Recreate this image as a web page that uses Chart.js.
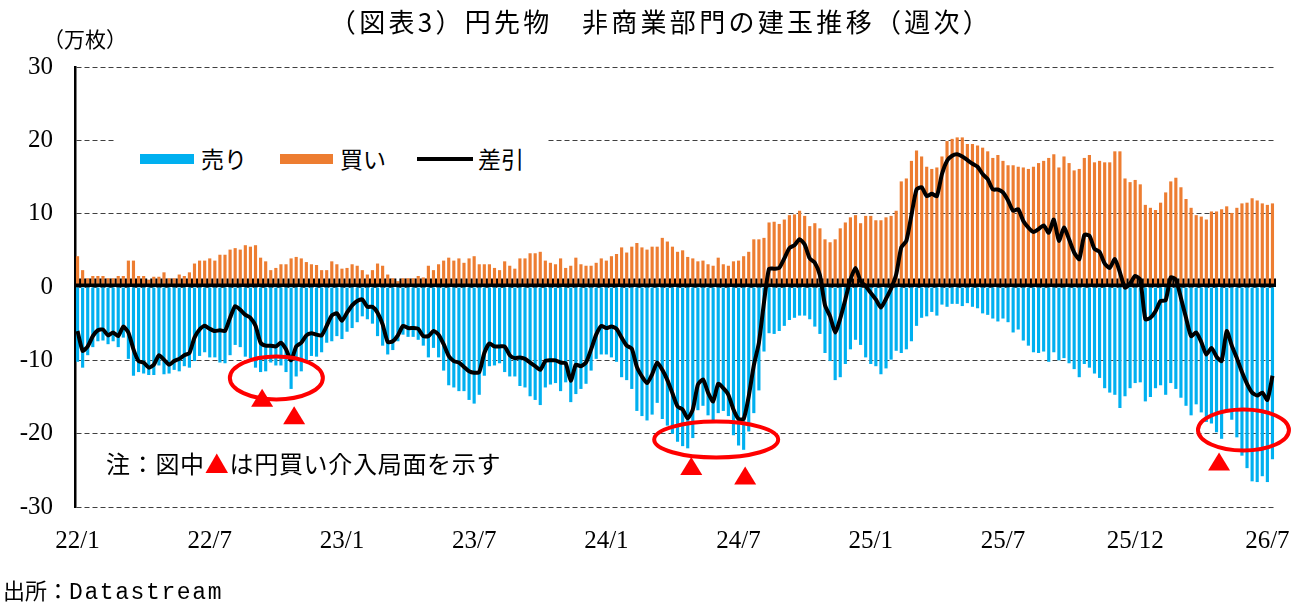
<!DOCTYPE html>
<html lang="ja">
<head>
<meta charset="utf-8">
<title>円先物 非商業部門の建玉推移（週次）</title>
<script src="https://cdn.jsdelivr.net/npm/chart.js@4.4.1/dist/chart.umd.min.js"></script>
<style>
  html, body { margin: 0; padding: 0; background: #fff; }
  #wrap { position: relative; width: 1299px; height: 604px; overflow: hidden;
          font-family: "Noto Sans CJK JP", sans-serif; color: #000; }
  #chart { position: absolute; left: 0; top: 0; }
  .txt { position: absolute; white-space: nowrap; line-height: 1; }
  .sw { position: absolute; }
</style>
</head>
<body>
<div id="wrap">
  <canvas id="chart" width="1299" height="604"></canvas>

  <div class="txt" id="title" style="left:661px; top:8px; font-size:26px; letter-spacing:3.3px; transform:translateX(-50%);">（図表3）円先物　非商業部門の建玉推移（週次）</div>
  <div class="txt" style="left:43px; top:28px; font-size:21px;">（万枚）</div>

  <!-- 凡例 -->
  <div class="sw" style="left:114px; top:133px; width:434px; height:46px; background:#fff;"></div>
  <div class="sw" style="left:140px; top:154px; width:54px; height:10px; background:#00B0F0;"></div>
  <div class="txt" style="left:201px; top:147px; font-size:23px;">売り</div>
  <div class="sw" style="left:280px; top:154px; width:53px; height:10px; background:#ED7D31;"></div>
  <div class="txt" style="left:340px; top:147px; font-size:23px;">買い</div>
  <div class="sw" style="left:417px; top:157px; width:56px; height:4px; background:#000;"></div>
  <div class="txt" style="left:478px; top:147px; font-size:23px;">差引</div>

  <div class="txt" style="left:106px; top:451px; font-size:24px; letter-spacing:0.7px;">注：図中<span style="color:#ff0000;">▲</span>は円買い介入局面を示す</div>
  <div class="txt" style="left:3px; top:578px; font-size:22px;">出所：<span style="font-family:'Liberation Mono', monospace; font-size:23px; letter-spacing:1.6px;">Datastream</span></div>
</div>

<script>
// 目盛りラベル（26週ごと）
const tickLabels = ["22/1", "22/7", "23/1", "23/7", "24/1", "24/7", "25/1", "25/7", "25/12", "26/7"];
const weeksPerTick = 26;

// 売り（万枚）
const sell = [
  -10.2, -11.0, -9.3, -8.2, -7.4, -7.3, -7.8, -7.4, -8.2, -6.9,
  -9.8, -12.1, -11.6, -11.8, -12.0, -12.0, -10.7, -11.9, -11.8, -11.3,
  -11.5, -10.8, -11.0, -10.1, -9.4, -8.9, -9.6, -9.6, -10.3, -10.4,
  -9.3, -7.9, -8.2, -9.5,
  -9.7, -11.0, -11.6, -11.5, -10.3, -10.7, -10.7, -11.6, -13.9, -12.2,
  -11.5, -10.0, -9.4, -9.5, -8.9, -7.6, -7.4, -6.7, -7.1, -6.1,
  -5.6, -4.8, -4.0, -4.4, -5.0, -6.7, -8.0, -9.2, -8.6, -7.4,
  -6.5, -6.8, -6.8, -7.2, -8.0,
  -9.6, -8.3, -9.6, -11.4, -13.4, -13.7, -14.2, -14.2, -15.4, -15.9,
  -14.7, -12.1, -10.8, -10.7, -10.4, -11.6, -12.2, -12.2, -13.5, -13.7,
  -14.9, -15.4, -16.1, -13.7, -13.3, -13.1, -14.2, -13.0, -15.7, -14.6,
  -13.9, -13.2, -11.4, -9.8,
  -9.2, -9.2, -9.6, -10.2, -12.3, -12.7, -13.9, -16.9, -17.6, -18.2,
  -17.4, -15.8, -18.0, -18.9, -20.0, -21.1, -21.7, -22.0, -20.6, -16.8,
  -16.2, -17.5, -18.5, -17.2, -16.9, -17.6, -20.2, -21.6, -22.2, -19.7,
  -17.2, -14.1, -8.8, -6.3, -6.4,
  -6.0, -5.3, -4.5, -4.2, -3.9, -3.9, -4.4, -5.4, -6.4, -9.0,
  -10.1, -12.7, -12.3, -10.5, -8.5, -7.2, -7.9, -9.6, -10.5, -10.8,
  -11.9, -11.1, -9.9, -8.7, -9.0, -8.5, -7.4, -5.3, -4.2, -4.0,
  -3.4, -3.9, -2.4, -2.7,
  -2.3, -2.3, -2.6, -2.2, -2.7, -2.9, -3.6, -3.8, -4.3, -4.7,
  -4.3, -4.8, -6.2, -5.8, -7.3, -8.0, -8.9, -9.0, -8.8, -10.2,
  -8.9, -10.0, -9.7, -10.4, -11.2, -12.3, -10.5, -11.0, -11.8, -12.4,
  -13.8, -14.4, -14.7, -16.5, -14.9,
  -13.8, -13.1, -13.0, -15.6, -15.0, -13.8, -13.4, -14.7, -13.1, -13.9,
  -15.1, -16.2, -17.5, -16.0, -17.1, -18.4, -18.6, -19.8, -20.7, -17.0,
  -18.1, -20.5, -23.0, -24.7, -26.5, -26.6, -25.8, -26.6, -23.5
];

// 買い（万枚）
const buy = [
  4.2, 2.3, 1.2, 1.5, 1.5, 1.5, 1.2, 1.2, 1.5, 1.5,
  3.6, 3.6, 1.5, 1.5, 1.0, 1.4, 1.4, 2.0, 1.2, 1.2,
  1.7, 1.5, 2.0, 3.2, 3.6, 3.6, 3.9, 3.6, 4.4, 4.4,
  5.1, 5.3, 5.1, 5.7,
  5.5, 5.7, 4.0, 3.5, 2.3, 2.6, 3.1, 3.1, 3.9, 4.1,
  3.9, 3.4, 3.1, 3.0, 2.3, 2.3, 3.5, 3.1, 2.5, 2.6,
  3.1, 2.9, 2.3, 1.7, 2.3, 3.2, 2.9, 1.7, 1.2, 0.8,
  1.2, 1.2, 1.2, 1.5, 1.3,
  2.9, 2.3, 3.1, 3.6, 4.0, 3.6, 3.9, 3.3, 3.9, 4.2,
  3.1, 3.1, 3.1, 2.6, 2.3, 3.5, 2.9, 2.5, 3.9, 3.9,
  4.6, 4.6, 4.8, 3.6, 3.3, 3.1, 3.9, 2.6, 2.9, 4.0,
  3.1, 2.9, 2.9, 3.3,
  3.9, 3.6, 4.2, 4.5, 5.4, 4.7, 5.5, 6.0, 5.4, 5.1,
  5.5, 5.5, 6.7, 6.2, 5.5, 4.8, 5.0, 4.1, 3.9, 3.5,
  3.6, 3.1, 2.9, 4.0, 3.1, 2.9, 3.5, 3.6, 4.2, 4.8,
  6.5, 6.5, 6.7, 8.8, 8.9,
  8.6, 9.2, 9.8, 9.9, 10.4, 9.7, 8.3, 8.7, 8.0, 6.5,
  6.1, 6.5, 8.0, 8.8, 9.5, 9.8, 8.7, 9.7, 9.7, 9.1,
  9.1, 9.5, 9.7, 10.4, 14.4, 14.8, 17.2, 18.6, 17.8, 16.4,
  16.1, 16.3, 17.8, 19.9,
  20.2, 20.4, 20.4, 19.5, 19.5, 19.3, 19.0, 18.5, 17.6, 18.0,
  17.2, 16.6, 16.6, 16.4, 16.3, 16.1, 16.4, 16.9, 17.2, 17.6,
  18.1, 16.3, 17.8, 16.9, 15.9, 16.1, 17.6, 18.0, 17.0, 17.2,
  17.0, 17.0, 18.5, 18.5, 14.8,
  14.3, 14.6, 14.0, 11.2, 10.8, 10.5, 11.5, 12.9, 14.4, 14.9,
  13.6, 12.0, 10.8, 9.8, 9.6, 9.2, 10.3, 10.3, 10.6, 11.0,
  10.1, 10.8, 11.4, 11.5, 12.1, 11.8, 11.4, 11.2, 11.4
];

// 差引（万枚）
const net = [
  -6.0, -8.7, -8.1, -6.7, -5.9, -5.8, -6.6, -6.2, -6.7, -5.4,
  -6.2, -8.5, -10.1, -10.3, -11.0, -10.6, -9.3, -9.9, -10.6, -10.1,
  -9.8, -9.3, -9.0, -6.9, -5.8, -5.3, -5.7, -6.0, -5.9, -6.0,
  -4.2, -2.6, -3.1, -3.8,
  -4.2, -5.3, -7.6, -8.0, -8.0, -8.1, -7.6, -8.5, -10.0, -8.1,
  -7.6, -6.6, -6.3, -6.5, -6.6, -5.3, -3.9, -3.6, -4.6, -3.5,
  -2.5, -1.9, -1.7, -2.7, -2.7, -3.5, -5.1, -7.5, -7.4, -6.6,
  -5.3, -5.6, -5.6, -5.7, -6.7,
  -6.7, -6.0, -6.5, -7.8, -9.4, -10.1, -10.3, -10.9, -11.5, -11.7,
  -11.6, -9.0, -7.7, -8.1, -8.1, -8.1, -9.3, -9.7, -9.6, -9.8,
  -10.3, -10.8, -11.3, -10.1, -10.0, -10.0, -10.3, -10.4, -12.8, -10.6,
  -10.8, -10.3, -8.5, -6.5,
  -5.3, -5.6, -5.4, -5.7, -6.9, -8.0, -8.4, -10.9, -12.2, -13.1,
  -11.9, -10.3, -11.3, -12.7, -14.5, -16.3, -16.7, -17.9, -16.7, -13.3,
  -12.6, -14.4, -15.6, -13.2, -13.8, -14.7, -16.7, -18.0, -18.0, -14.9,
  -10.7, -7.6, -2.1, 2.5, 2.5,
  2.6, 3.9, 5.3, 5.7, 6.5, 5.8, 3.9, 3.3, 1.6, -2.5,
  -4.0, -6.2, -4.3, -1.7, 1.0, 2.6, 0.8, 0.1, -0.8, -1.7,
  -2.8, -1.6, -0.2, 1.7, 5.4, 6.3, 9.8, 13.3, 13.6, 12.4,
  12.7, 12.4, 15.4, 17.2,
  17.9, 18.1, 17.8, 17.3, 16.8, 16.4, 15.4, 14.7, 13.3, 13.3,
  12.9, 11.8, 10.4, 10.6, 9.0, 8.1, 7.5, 7.9, 8.4, 7.4,
  9.2, 6.3, 8.1, 6.5, 4.7, 3.8, 7.1, 7.0, 5.2, 4.8,
  3.2, 2.6, 3.8, 2.0, -0.1,
  0.5, 1.5, 1.0, -4.4, -4.2, -3.3, -1.9, -1.8, 1.3, 1.0,
  -1.5, -4.2, -6.7, -6.2, -7.5, -9.2, -8.3, -9.5, -10.1, -6.0,
  -8.0, -9.7, -11.6, -13.2, -14.4, -14.8, -14.4, -15.4, -12.1
];

// 円買い介入局面の印（週の位置と値）
const ellipseMarks = [
  { week: 39.1, value: -12.4, rx: 46.5, ry: 21.5 },
  { week: 125.6, value: -20.8, rx: 62, ry: 18 },
  { week: 229.3, value: -19.5, rx: 45.5, ry: 20.5 }
];
const triangleMarks = [
  { week: 36.3, value: -15.1 },
  { week: 42.6, value: -17.5 },
  { week: 120.7, value: -24.4 },
  { week: 131.3, value: -25.7 },
  { week: 224.5, value: -23.8 }
];

const labels = sell.map((_, i) => (i % weeksPerTick === 0 ? tickLabels[i / weeksPerTick] || "" : ""));

const numFont = { family: '"Liberation Serif", "Noto Sans CJK JP", serif', size: 25 };

// ゼロ線（目盛り付き）を棒の上・折れ線の下に描く
const zeroAxis = {
  id: "zeroAxis",
  beforeDatasetDraw(chart, args) {
    if (chart.data.datasets[args.index].type !== "line") return;
    const { ctx, chartArea, scales: { x, y } } = chart;
    const y0 = y.getPixelForValue(0);
    const step = x.getPixelForValue(1) - x.getPixelForValue(0);
    ctx.save();
    ctx.strokeStyle = "#000";
    ctx.lineWidth = 3.5;
    ctx.beginPath();
    ctx.moveTo(chartArea.left, y0 - 1.8);
    ctx.lineTo(chartArea.right, y0 - 1.8);
    ctx.stroke();
    ctx.lineWidth = 2;
    ctx.beginPath();
    for (let i = 0; i <= chart.data.labels.length; i++) {
      const px = x.getPixelForValue(i) - step / 2;
      ctx.moveTo(px, y0 - 8.5);
      ctx.lineTo(px, y0);
    }
    ctx.stroke();
    ctx.restore();
  }
};

const marks = {
  id: "marks",
  afterDatasetsDraw(chart) {
    const { ctx, scales: { x, y } } = chart;
    ctx.save();
    ctx.strokeStyle = "#ff0000";
    ctx.fillStyle = "#ff0000";
    ctx.lineWidth = 4;
    ellipseMarks.forEach(m => {
      ctx.beginPath();
      ctx.ellipse(x.getPixelForValue(m.week), y.getPixelForValue(m.value), m.rx, m.ry, 0, 0, Math.PI * 2);
      ctx.stroke();
    });
    triangleMarks.forEach(m => {
      const cx = x.getPixelForValue(m.week);
      const cy = y.getPixelForValue(m.value);
      ctx.beginPath();
      ctx.moveTo(cx, cy - 9);
      ctx.lineTo(cx + 11, cy + 9);
      ctx.lineTo(cx - 11, cy + 9);
      ctx.closePath();
      ctx.fill();
    });
    ctx.restore();
  }
};

new Chart(document.getElementById("chart").getContext("2d"), {
  data: {
    labels: labels,
    datasets: [
      {
        type: "line",
        label: "差引",
        data: net,
        borderColor: "#000",
        borderWidth: 4,
        pointRadius: 0,
        tension: 0.2,
        borderJoinStyle: "round",
        order: 0
      },
      {
        type: "bar",
        label: "買い",
        data: buy,
        backgroundColor: "#ED7D31",
        grouped: false,
        barPercentage: 0.62,
        categoryPercentage: 1.0,
        order: 1
      },
      {
        type: "bar",
        label: "売り",
        data: sell,
        backgroundColor: "#00B0F0",
        grouped: false,
        barPercentage: 0.62,
        categoryPercentage: 1.0,
        order: 2
      }
    ]
  },
  options: {
    responsive: false,
    animation: false,
    layout: { padding: { top: 67, right: 24, bottom: 0, left: 0 } },
    plugins: {
      legend: { display: false },
      tooltip: { enabled: false }
    },
    scales: {
      x: {
        grid: { display: false },
        border: { display: false },
        ticks: {
          autoSkip: false,
          maxRotation: 0,
          minRotation: 0,
          padding: 11,
          color: "#000",
          font: numFont
        },
        afterFit(scale) { scale.height = 97; }
      },
      y: {
        min: -30,
        max: 30,
        ticks: { stepSize: 10, padding: 22, color: "#000", font: numFont },
        grid: { color: "#404040", lineWidth: 1, drawTicks: false },
        border: { display: true, color: "#000", width: 2.5, dash: [5, 3] },
        afterFit(scale) { scale.width = 75; }
      }
    }
  },
  plugins: [zeroAxis, marks]
});
</script>
</body>
</html>
